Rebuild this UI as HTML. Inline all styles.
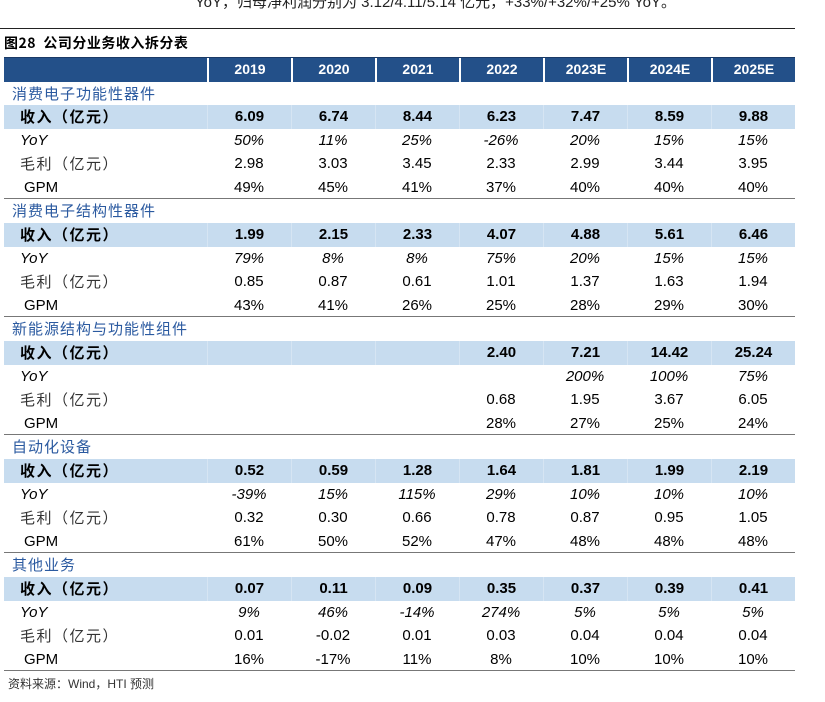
<!DOCTYPE html>
<html><head><meta charset="utf-8"><style>
body{margin:0;width:825px;height:702px;background:#fff;position:relative;overflow:hidden;font-family:"Liberation Sans","Noto Sans CJK SC",sans-serif;color:#000}
.top{position:absolute;left:195px;top:-9px;font-size:15px;color:#222;white-space:nowrap}
.rule{position:absolute;left:0;top:28px;width:795px;height:1px;background:#222}
.title{position:absolute;left:4px;top:33px;font-size:14px;font-weight:bold;font-family:"Noto Sans CJK SC",sans-serif;letter-spacing:0.5px}
.t{position:absolute;left:4px;top:57px;width:791px}
.row{display:flex;height:23.6px;overflow:hidden;box-sizing:border-box}
.row div{height:23.6px;line-height:23.6px;font-size:15px;text-align:center;white-space:nowrap;overflow:hidden;box-sizing:border-box}
.row div:first-child{width:203px;text-align:left;padding-left:16px}
.row div+div{width:84px}
.h{height:24.5px;border-top:1px solid #1a3a66}
.h div{background:#235089;color:#fff;font-weight:bold;font-size:14px!important;border-left:2px solid #fff}
.h div:first-child{border-left:none}
.s div{color:#2b5aa0;font-family:"Noto Sans CJK SC",sans-serif;letter-spacing:1px;width:791px!important;padding-left:8px!important}
.r div{background:#c7dcef;font-weight:bold;border-left:1px solid #d6e5f3}
.r div:first-child{border-left:none;font-family:"Noto Sans CJK SC",sans-serif;letter-spacing:1.5px}
.y div{font-style:italic}
.m div:first-child{font-family:"Noto Sans CJK SC",sans-serif;color:#333;letter-spacing:1.5px}
.g{border-bottom:1px solid #777}
.g div:first-child{padding-left:20px}
.foot{position:absolute;left:8px;top:675px;font-size:12px;color:#333}
</style></head><body>
<div class="top">YoY，归母净利润分别为 3.12/4.11/5.14 亿元，+33%/+32%/+25% YoY。</div>
<div class="rule"></div>
<div class="title">图28&nbsp; 公司分业务收入拆分表</div>
<div class="t">
<div class="row h"><div></div><div>2019</div><div>2020</div><div>2021</div><div>2022</div><div>2023E</div><div>2024E</div><div>2025E</div></div>
<div class="row s"><div>消费电子功能性器件</div></div>
<div class="row r"><div>收入（亿元）</div><div>6.09</div><div>6.74</div><div>8.44</div><div>6.23</div><div>7.47</div><div>8.59</div><div>9.88</div></div>
<div class="row y"><div>YoY</div><div>50%</div><div>11%</div><div>25%</div><div>-26%</div><div>20%</div><div>15%</div><div>15%</div></div>
<div class="row m"><div>毛利（亿元）</div><div>2.98</div><div>3.03</div><div>3.45</div><div>2.33</div><div>2.99</div><div>3.44</div><div>3.95</div></div>
<div class="row g"><div>GPM</div><div>49%</div><div>45%</div><div>41%</div><div>37%</div><div>40%</div><div>40%</div><div>40%</div></div>
<div class="row s"><div>消费电子结构性器件</div></div>
<div class="row r"><div>收入（亿元）</div><div>1.99</div><div>2.15</div><div>2.33</div><div>4.07</div><div>4.88</div><div>5.61</div><div>6.46</div></div>
<div class="row y"><div>YoY</div><div>79%</div><div>8%</div><div>8%</div><div>75%</div><div>20%</div><div>15%</div><div>15%</div></div>
<div class="row m"><div>毛利（亿元）</div><div>0.85</div><div>0.87</div><div>0.61</div><div>1.01</div><div>1.37</div><div>1.63</div><div>1.94</div></div>
<div class="row g"><div>GPM</div><div>43%</div><div>41%</div><div>26%</div><div>25%</div><div>28%</div><div>29%</div><div>30%</div></div>
<div class="row s"><div>新能源结构与功能性组件</div></div>
<div class="row r"><div>收入（亿元）</div><div></div><div></div><div></div><div>2.40</div><div>7.21</div><div>14.42</div><div>25.24</div></div>
<div class="row y"><div>YoY</div><div></div><div></div><div></div><div></div><div>200%</div><div>100%</div><div>75%</div></div>
<div class="row m"><div>毛利（亿元）</div><div></div><div></div><div></div><div>0.68</div><div>1.95</div><div>3.67</div><div>6.05</div></div>
<div class="row g"><div>GPM</div><div></div><div></div><div></div><div>28%</div><div>27%</div><div>25%</div><div>24%</div></div>
<div class="row s"><div>自动化设备</div></div>
<div class="row r"><div>收入（亿元）</div><div>0.52</div><div>0.59</div><div>1.28</div><div>1.64</div><div>1.81</div><div>1.99</div><div>2.19</div></div>
<div class="row y"><div>YoY</div><div>-39%</div><div>15%</div><div>115%</div><div>29%</div><div>10%</div><div>10%</div><div>10%</div></div>
<div class="row m"><div>毛利（亿元）</div><div>0.32</div><div>0.30</div><div>0.66</div><div>0.78</div><div>0.87</div><div>0.95</div><div>1.05</div></div>
<div class="row g"><div>GPM</div><div>61%</div><div>50%</div><div>52%</div><div>47%</div><div>48%</div><div>48%</div><div>48%</div></div>
<div class="row s"><div>其他业务</div></div>
<div class="row r"><div>收入（亿元）</div><div>0.07</div><div>0.11</div><div>0.09</div><div>0.35</div><div>0.37</div><div>0.39</div><div>0.41</div></div>
<div class="row y"><div>YoY</div><div>9%</div><div>46%</div><div>-14%</div><div>274%</div><div>5%</div><div>5%</div><div>5%</div></div>
<div class="row m"><div>毛利（亿元）</div><div>0.01</div><div>-0.02</div><div>0.01</div><div>0.03</div><div>0.04</div><div>0.04</div><div>0.04</div></div>
<div class="row g"><div>GPM</div><div>16%</div><div>-17%</div><div>11%</div><div>8%</div><div>10%</div><div>10%</div><div>10%</div></div>
</div>
<div class="foot">资料来源：Wind，HTI 预测</div>
</body></html>
